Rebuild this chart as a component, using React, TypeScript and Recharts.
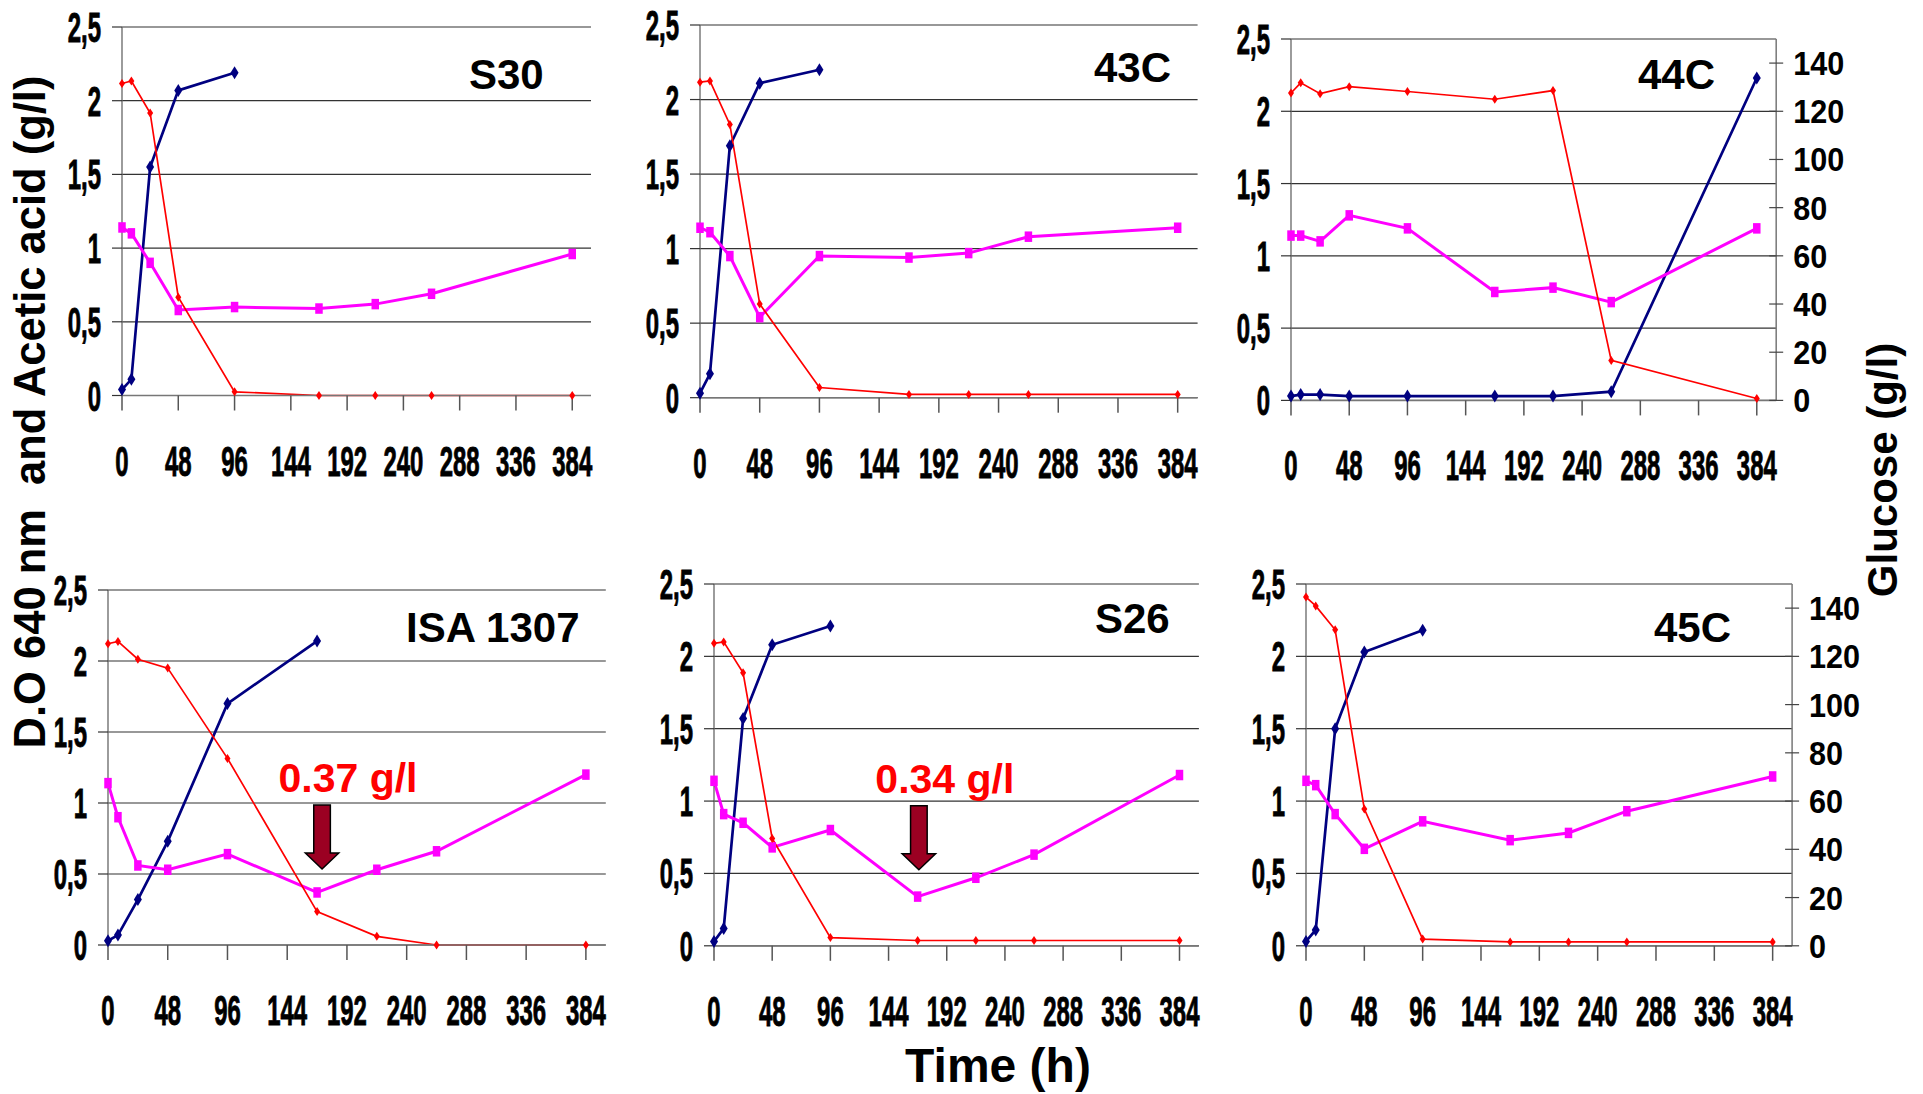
import React from "react";
import {
  CartesianGrid,
  Line,
  LineChart,
  ReferenceDot,
  XAxis,
  YAxis,
} from "recharts";

// sampling times (h), shared by every strain
const TIMES = [0, 8, 24, 48, 96, 168, 216, 264, 384];
const X_TICKS = [0, 48, 96, 144, 192, 240, 288, 336, 384];
const LEFT_TICKS = [0, 0.5, 1, 1.5, 2, 2.5];
const RIGHT_TICKS = [0, 20, 40, 60, 80, 100, 120, 140];

// D.O 640 nm (left axis)
const s30Od = [0.04, 0.11, 1.55, 2.07, 2.19];
const c43Od = [0.03, 0.16, 1.69, 2.11, 2.2];
const c44Od = [0.03, 0.04, 0.04, 0.03, 0.03, 0.03, 0.03, 0.06, 2.23];
const isaOd = [0.03, 0.07, 0.32, 0.73, 1.7, 2.14];
const s26Od = [0.03, 0.12, 1.57, 2.08, 2.21];
const c45Od = [0.03, 0.11, 1.5, 2.03, 2.18];

// acetic acid g/l (left axis)
const s30Acetic = [1.14, 1.1, 0.9, 0.58, 0.6, 0.59, 0.62, 0.69, 0.96];
const c43Acetic = [1.14, 1.11, 0.95, 0.54, 0.95, 0.94, 0.97, 1.08, 1.14];
const c44Acetic = [1.14, 1.14, 1.1, 1.28, 1.19, 0.75, 0.78, 0.68, 1.19];
const isaAcetic = [1.14, 0.9, 0.56, 0.53, 0.64, 0.37, 0.53, 0.66, 1.2];
const s26Acetic = [1.14, 0.91, 0.85, 0.68, 0.8, 0.34, 0.47, 0.63, 1.18];
const c45Acetic = [1.14, 1.11, 0.91, 0.67, 0.86, 0.73, 0.78, 0.93, 1.17];

// glucose g/l (right axis)
const s30Glucose = [127, 128, 115, 40, 1.5, 0, 0, 0, 0];
const c43Glucose = [127, 127.5, 110, 37.7, 4.1, 1.3, 1.3, 1.3, 1.3];
const c44Glucose = [127.6, 131.8, 127.3, 130.2, 128.2, 125, 128.6, 16.6, 0.8];
const isaGlucose = [127, 128, 120.4, 116.6, 78, 12.5, 1.9, -1.8, -1.8];
const s26Glucose = [125.4, 126, 113.2, 44.5, 3.4, 2.2, 2.2, 2.2, 2.2];
const c45Glucose = [144.6, 140.9, 131, 56.7, 2.8, 1.6, 1.6, 1.6, 1.6];

const STRAINS = ["S30", "43C", "44C", "ISA 1307", "S26", "45C"];

// arrow annotations (acetic acid minimum)
const annotStrains = ["ISA 1307", "S26"];
const annotTimes = [172, 169];
const annotTips = [0.535, 0.525];
const annotLabels = ["0.37 g/l", "0.34 g/l"];

const FONT = "'Liberation Sans', Arial, sans-serif";

// plot-area boxes, in page pixels
const layout: Record<string, { l: number; r: number; t: number; b: number; right: boolean; title: [number, number] }> = {
  S30: { l: 121.5, r: 590.5, t: 27.3, b: 395.8, right: false, title: [469, 89] },
  "43C": { l: 700.4, r: 1198, t: 25, b: 397.7, right: false, title: [1094, 82] },
  "44C": { l: 1290.5, r: 1775.7, t: 39.3, b: 400.7, right: true, title: [1638, 89] },
  "ISA 1307": { l: 107.8, r: 605.6, t: 590.3, b: 945.3, right: false, title: [406, 642] },
  S26: { l: 714.3, r: 1199.2, t: 583.5, b: 945.3, right: false, title: [1095, 633] },
  "45C": { l: 1306.2, r: 1792.3, t: 583.5, b: 945.3, right: true, title: [1654, 642] },
};

const series: Record<string, { od: number[]; acetic: number[]; glucose: number[] }> = {
  S30: { od: s30Od, acetic: s30Acetic, glucose: s30Glucose },
  "43C": { od: c43Od, acetic: c43Acetic, glucose: c43Glucose },
  "44C": { od: c44Od, acetic: c44Acetic, glucose: c44Glucose },
  "ISA 1307": { od: isaOd, acetic: isaAcetic, glucose: isaGlucose },
  S26: { od: s26Od, acetic: s26Acetic, glucose: s26Glucose },
  "45C": { od: c45Od, acetic: c45Acetic, glucose: c45Glucose },
};

const diamond = (color: string, w: number, h: number) => (props: any) => {
  const { cx, cy, index, value } = props;
  if (value == null || cx == null || cy == null || isNaN(cy))
    return <g key={`m${index}`} />;
  return (
    <path
      key={`m${index}`}
      d={`M${cx},${cy - h}L${cx + w},${cy}L${cx},${cy + h}L${cx - w},${cy}Z`}
      fill={color}
    />
  );
};

const square = (color: string, w: number, h: number) => (props: any) => {
  const { cx, cy, index, value } = props;
  if (value == null || cx == null || cy == null || isNaN(cy))
    return <g key={`q${index}`} />;
  return <rect key={`q${index}`} x={cx - w / 2} y={cy - h / 2} width={w} height={h} fill={color} />;
};

const XTick = (props: any) => {
  const { x, y, payload } = props;
  return (
    <text
      transform={`translate(${x},${y + 65}) scale(0.57,1)`}
      textAnchor="middle"
      fontSize={42}
      fontWeight="bold"
      fontFamily={FONT}
      fill="#000"
      stroke="#000"
      strokeWidth={0.9}
    >
      {payload.value}
    </text>
  );
};

const LeftTick = (props: any) => {
  const { x, y, payload } = props;
  return (
    <text
      transform={`translate(${x},${y + 15}) scale(0.57,1)`}
      textAnchor="end"
      fontSize={42}
      fontWeight="bold"
      fontFamily={FONT}
      fill="#000"
      stroke="#000"
      strokeWidth={0.9}
    >
      {String(payload.value).replace(".", ",")}
    </text>
  );
};

const RightTick = (props: any) => {
  const { x, y, payload } = props;
  return (
    <g>
      <line x1={x - 7} x2={x + 7} y1={y} y2={y} stroke="#444" strokeWidth={1.2} />
      <text
        transform={`translate(${x + 17},${y + 12}) scale(0.9,1)`}
        textAnchor="start"
        fontSize={34}
        fontWeight="bold"
        fontFamily={FONT}
        fill="#000"
      >
        {payload.value}
      </text>
    </g>
  );
};

const arrowShape = (label: string) => (props: any) => {
  const { cx, cy } = props;
  const d = `M${cx - 8.3},${cy - 64}L${cx + 8.3},${cy - 64}L${cx + 8.3},${cy - 16}L${cx + 16.7},${cy - 16}L${cx},${cy}L${cx - 16.7},${cy - 16}L${cx - 8.3},${cy - 16}Z`;
  return (
    <g>
      <path d={d} fill="#9b0022" stroke="#000" strokeWidth={1.5} />
      <text x={cx - 43.5} y={cy - 77} fontSize={41} fontWeight="bold" fontFamily={FONT} fill="#ff0000">
        {label}
      </text>
    </g>
  );
};

function Panel({ name }: { name: string }) {
  const box = layout[name];
  const s = series[name];
  const data = TIMES.map((t, i) => ({
    t,
    od: i < s.od.length ? s.od[i] : null,
    acetic: s.acetic[i],
    glucose: s.glucose[i],
  }));
  const leftW = 100;
  const rightW = 90;
  const topM = 40;
  const xH = 100;
  const width = leftW + (box.r - box.l) + rightW;
  const height = topM + (box.b - box.t) + xH;
  const ai = annotStrains.indexOf(name);

  return (
    <div style={{ position: "absolute", left: box.l - leftW, top: box.t - topM }}>
      <LineChart
        width={width}
        height={height}
        data={data}
        margin={{ top: topM, right: box.right ? 0 : rightW, bottom: 0, left: 0 }}
        style={{ overflow: "visible" }}
      >
        <CartesianGrid yAxisId="left" vertical={false} stroke="#333" strokeWidth={1.2} />
        <XAxis
          dataKey="t"
          type="number"
          domain={[0, 400]}
          ticks={X_TICKS}
          interval={0}
          height={xH}
          tickSize={15}
          tickMargin={0}
          tick={<XTick />}
          axisLine={{ stroke: "#777", strokeWidth: 1.5 }}
          tickLine={{ stroke: "#555", strokeWidth: 1.5 }}
        />
        <YAxis
          yAxisId="left"
          orientation="left"
          domain={[0, 2.5]}
          ticks={LEFT_TICKS}
          interval={0}
          width={leftW}
          tickSize={10}
          tickMargin={11}
          tick={<LeftTick />}
          axisLine={{ stroke: "#666", strokeWidth: 1.3 }}
          tickLine={{ stroke: "#333", strokeWidth: 1.2 }}
        />
        <YAxis
          yAxisId="right"
          orientation="right"
          domain={[0, 150]}
          ticks={RIGHT_TICKS}
          interval={0}
          hide={!box.right}
          width={rightW}
          tickSize={0}
          tickMargin={0}
          tickLine={false}
          tick={<RightTick />}
          axisLine={{ stroke: "#777", strokeWidth: 1.5 }}
        />
        <Line
          yAxisId="left"
          dataKey="od"
          stroke="#000080"
          strokeWidth={2.7}
          dot={diamond("#000080", 4, 6.5)}
          activeDot={false}
          isAnimationActive={false}
        />
        <Line
          yAxisId="left"
          dataKey="acetic"
          stroke="#ff00ff"
          strokeWidth={3}
          dot={square("#ff00ff", 7.5, 10.5)}
          activeDot={false}
          isAnimationActive={false}
        />
        <Line
          yAxisId="right"
          dataKey="glucose"
          stroke="#ff0000"
          strokeWidth={1.7}
          dot={diamond("#ff0000", 3, 4.5)}
          activeDot={false}
          isAnimationActive={false}
        />
        {ai >= 0 && (
          <ReferenceDot
            yAxisId="left"
            x={annotTimes[ai]}
            y={annotTips[ai]}
            shape={arrowShape(annotLabels[ai])}
          />
        )}
      </LineChart>
    </div>
  );
}

export default function App() {
  const titleStyle = { fontFamily: FONT, fontWeight: "bold" as const, fill: "#000" };
  return (
    <div
      style={{
        position: "absolute",
        left: 0,
        top: 0,
        width: 1923,
        height: 1094,
        background: "#fff",
        overflow: "hidden",
      }}
    >
      {STRAINS.map((n) => (
        <Panel key={n} name={n} />
      ))}
      <svg
        width={1923}
        height={1094}
        style={{ position: "absolute", left: 0, top: 0, pointerEvents: "none" }}
      >
        {STRAINS.map((n) => (
          <text key={n} x={layout[n].title[0]} y={layout[n].title[1]} fontSize={42} {...titleStyle}>
            {n}
          </text>
        ))}
        <text
          transform="translate(45,412) rotate(-90)"
          textAnchor="middle"
          fontSize={43.5}
          style={{ whiteSpace: "pre" }}
          {...titleStyle}
        >
          {"D.O 640 nm  and Acetic acid (g/l)"}
        </text>
        <text transform="translate(1897,470) rotate(-90)" textAnchor="middle" fontSize={42} {...titleStyle}>
          Glucose (g/l)
        </text>
        <text x={998} y={1082} textAnchor="middle" fontSize={48} {...titleStyle}>
          Time (h)
        </text>
      </svg>
    </div>
  );
}
